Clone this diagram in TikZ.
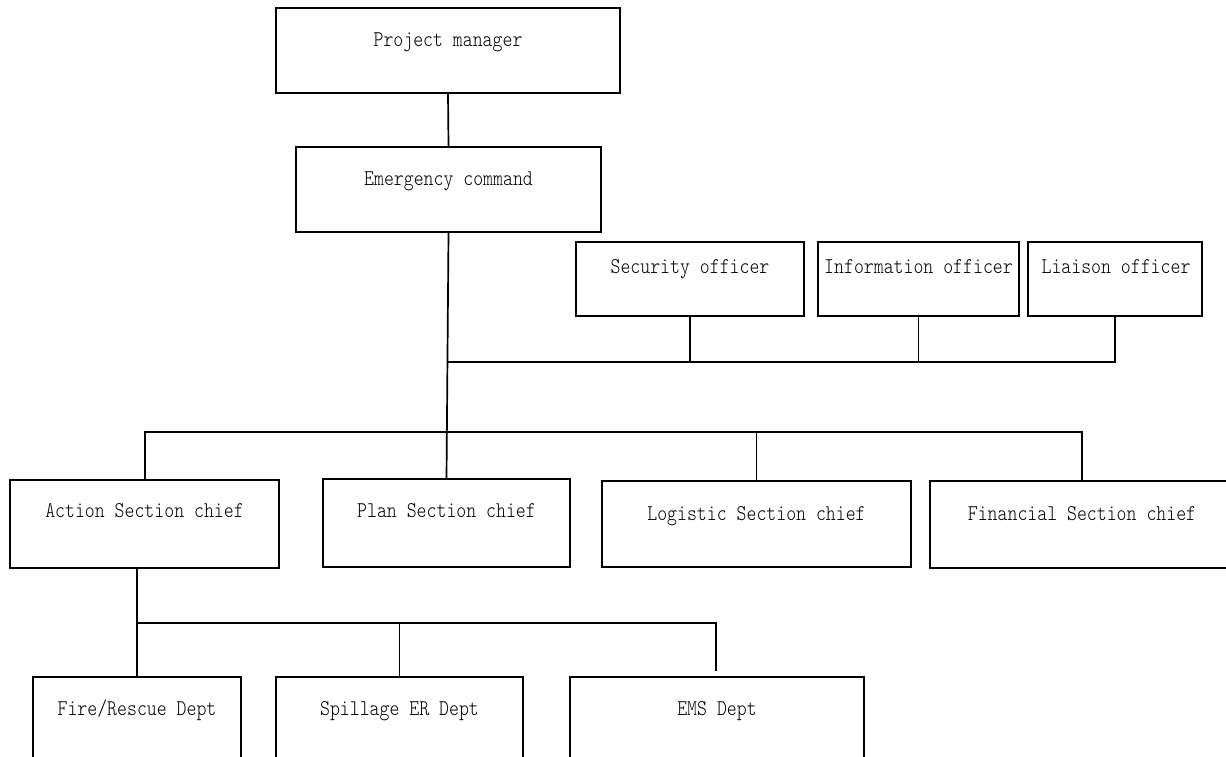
\documentclass[tikz,border=0pt]{standalone}
\usepackage{fontspec}
\newfontfamily\labfont{lmmonolt10-regular.otf}[FakeStretch=0.84]
\begin{document}
\begin{tikzpicture}[x=1pt,y=-1pt,
  box/.style={draw=black, line width=1.8pt, rectangle, inner sep=0pt},
  lbl/.style={anchor=base, inner sep=0pt, font=\labfont\fontsize{22.5}{24}\selectfont, text=black},
  conn/.style={draw=black, line width=1.7pt}]
\useasboundingbox (0,0) rectangle (1226,757);
\clip (0,0) rectangle (1226,757);
\fill[white] (0,0) rectangle (1226,757);
% boxes
\node[box, minimum width=344pt, minimum height=85pt] (pm) at (448,50.5) {};
\node[box, minimum width=305pt, minimum height=85pt] (ec) at (448.5,189.5) {};
\node[box, minimum width=228pt, minimum height=74pt] (so) at (690,279) {};
\node[box, minimum width=201pt, minimum height=74pt] (io) at (918.5,279) {};
\node[box, minimum width=174pt, minimum height=74pt] (lo) at (1115,279) {};
\node[box, minimum width=269pt, minimum height=88pt] (ac) at (144.5,524) {};
\node[box, minimum width=247pt, minimum height=88pt] (pc) at (446.5,523) {};
\node[box, minimum width=309pt, minimum height=86pt] (lc) at (756.5,524) {};
\node[box, minimum width=304pt, minimum height=87pt] (fc) at (1082,524.5) {};
\node[box, minimum width=208pt, minimum height=123pt] (fr) at (137,738.5) {};
\node[box, minimum width=247pt, minimum height=123pt] (sp) at (399.5,738.5) {};
\node[box, minimum width=294pt, minimum height=123pt] (em) at (717,738.5) {};
% labels
\node[lbl] (tpm) at (448,47) {Project manager};
\node[lbl] (tec) at (448.5,185) {Emergency command};
\node[lbl] (tso) at (690,273) {Security officer};
\node[lbl] (tio) at (918.5,273) {Information officer};
\node[lbl] (tlo) at (1116,273) {Liaison officer};
\node[lbl] (tac) at (144.5,517) {Action Section chief};
\node[lbl] (tpc) at (446.5,517) {Plan Section chief};
\node[lbl] (tlc) at (756.5,520) {Logistic Section chief};
\node[lbl] (tfc) at (1082,520) {Financial Section chief};
\node[lbl] (tfr) at (137,715) {Fire/Rescue Dept};
\node[lbl] (tsp) at (399.5,715) {Spillage ER Dept};
\node[lbl] (tem) at (717,715) {EMS Dept};
% junction coordinates
\coordinate (ob) at (447.5,362);
\coordinate (sb) at (447,432);
\coordinate (db) at (137,623);
\coordinate (emend) at (716,671);
% connectors
\draw[conn] (pm.south) -- (ec.north);
\draw[conn] (ec.south) -- (pc.north);
\draw[conn] (ob) -- (lo.south |- ob) -- (lo.south);
\draw[conn] (so.south) -- (so.south |- ob);
\draw[conn] (io.south) -- (io.south |- ob);
\draw[conn] (ac.north -| 145,0) |- (sb) -- (fc.north |- sb) -- (fc.north);
\draw[conn] (lc.north |- sb) -- (lc.north);
\draw[conn] (fr.north |- ac.south) -- (fr.north);
\draw[conn] (db) -- (emend |- db) -- (emend);
\draw[conn] (sp.north |- db) -- (sp.north);
\end{tikzpicture}
\end{document}
